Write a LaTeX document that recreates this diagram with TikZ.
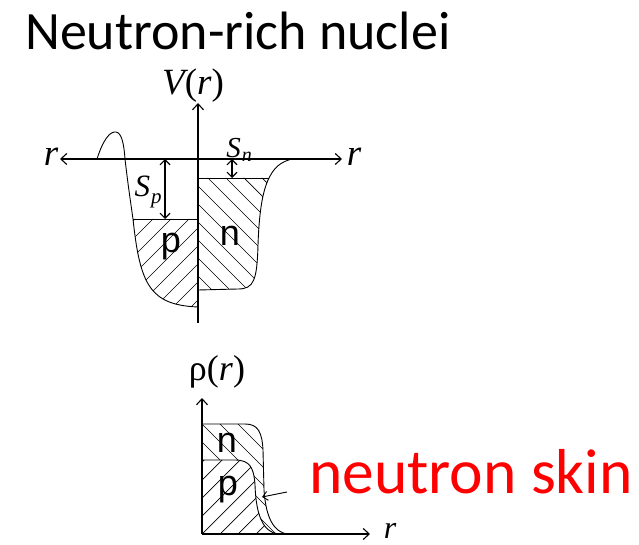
\documentclass[tikz,border=0pt]{standalone}
\usepackage{fontspec}
\newfontfamily\calibrifont{Carlito}
\newfontfamily\arialfont{Liberation Sans}
\newfontfamily\seriffont{Liberation Serif}
\usetikzlibrary{arrows.meta}

\begin{document}
\begin{tikzpicture}[
x=1pt, y=-1pt, axis/.style={line width=1.1pt, -{Straight Barb[length=6pt, width=11pt]}}, axisboth/.style={line width=1.1pt, {Straight Barb[length=6pt, width=11pt]}-{Straight Barb[length=6pt, width=11pt]}}, gap/.style={line width=1.1pt, {Straight Barb[length=5pt, width=10pt]}-{Straight Barb[length=5pt, width=10pt]}}, curve/.style={line width=0.9pt}, hatch/.style={line width=0.7pt}, var/.style={font=\fontsize{37}{38}\seriffont\itshape, inner sep=0pt}, region/.style={font=\fontsize{36}{38}\arialfont, inner sep=0pt}, title/.style={font=\fontsize{54}{60}\calibrifont, inner sep=0pt}, skin/.style={font=\fontsize{63.5}{66}\calibrifont, text=red, inner sep=0pt} ]
\useasboundingbox (0,0) rectangle (639,545);
% title
\node[title, anchor=base west] (title) at (25,50) {Neutron-rich nuclei};
% potential: hatched proton and neutron wells
\begin{scope}
\clip (133,219) -- (198,219) -- (198,307) .. controls (150,305) and (140,285) .. (133,219) -- cycle;
\foreach \a in {-120,-102,...,300} \draw[hatch] (\a,330) -- ++(220,-220);
\end{scope}
\begin{scope}
\clip (198,178) -- (269,178) .. controls (262,192) and (259,215) .. (258,245) .. controls (257,280) and (254,289) .. (238,289) -- (198,290) -- cycle;
\foreach \a in {-40,-22,...,300} \draw[hatch] (\a,110) -- ++(220,220);
\end{scope}
\draw[curve] (97,159) .. controls (103,140) and (110,131) .. (116,132) .. controls (122,133) and (124,145) .. (125,159) .. controls (128,185) and (131,205) .. (133,219) .. controls (140,285) and (150,305) .. (198,307);
\draw[curve] (292,159) .. controls (280,162) and (274,168) .. (269,178) .. controls (262,192) and (259,215) .. (258,245) .. controls (257,280) and (254,289) .. (238,289) -- (198,290);
\draw[curve] (133,219) -- (198,219);
\draw[curve] (198,178) -- (269,178);
% axes of V(r)
\coordinate (Vbot) at (198,323);
\coordinate (Vtop) at (198,103);
\coordinate (rleft) at (60,159);
\coordinate (rright) at (342,159);
\draw[axis] (Vbot) -- (Vtop);
\draw[axisboth] (rleft) -- (rright);
\node[var] (Vlabel) at (193,86) {V\upshape(\itshape r\upshape)};
\node[var] (rleftlabel) at (51,157) {r};
\node[var] (rrightlabel) at (354,157) {r};
% separation energies
\coordinate (Sptop) at (165,159);
\coordinate (Spbot) at (165,219);
\coordinate (Sntop) at (232,159);
\coordinate (Snbot) at (232,178);
\draw[gap] (Sptop) -- (Spbot);
\draw[gap] (Sntop) -- (Snbot);
\node[var, font=\fontsize{31}{32}\seriffont\itshape] (Splabel) at (148,192) {S\kern1pt\raisebox{-7pt}{\fontsize{21}{22}\selectfont p}};
\node[var, font=\fontsize{29}{30}\seriffont\itshape] (Snlabel) at (239,150) {S\kern1pt\raisebox{-4pt}{\fontsize{20}{20}\selectfont n}};
\node[region, anchor=base] (plabel) at (171,252) {p};
\node[region, anchor=base] (nlabel) at (230,245) {n};
% density: hatched neutron skin and proton core
\begin{scope}
\clip (202,424) -- (245,424) .. controls (258,424) and (262,432) .. (263,450) -- (264,490) .. controls (266,520) and (275,532) .. (287,534) -- (278,534) .. controls (263,532) and (256,515) .. (255,485) .. controls (254,468) and (250,460) .. (235,460) -- (202,460) -- cycle;
\foreach \a in {-40,-22,...,300} \draw[hatch] (\a,380) -- ++(220,220);
\end{scope}
\begin{scope}
\clip (202,460) -- (235,460) .. controls (250,460) and (254,468) .. (255,485) .. controls (256,515) and (263,532) .. (278,534) -- (202,534) -- cycle;
\foreach \a in {-40,-22,...,300} \draw[hatch] (\a,560) -- ++(180,-180);
\end{scope}
\draw[curve] (202,424) -- (245,424) .. controls (258,424) and (262,432) .. (263,450) -- (264,490) .. controls (266,520) and (275,532) .. (287,534);
\draw[curve] (202,460) -- (235,460) .. controls (250,460) and (254,468) .. (255,485) .. controls (256,515) and (263,532) .. (278,534);
% axes of rho(r)
\coordinate (O) at (202,534);
\coordinate (rhotop) at (202,398);
\coordinate (rend) at (370,534);
\draw[axis] (O) -- (rhotop);
\draw[axis] (O) -- (rend);
\node[var, font=\fontsize{36}{38}\seriffont] (rholabel) at (217,372) {ρ(\textit{r})};
\node[var, anchor=base, font=\fontsize{32}{34}\seriffont\itshape] (rbotlabel) at (390,538) {r};
\node[region, anchor=base] (nskin) at (227,452) {n};
\node[region, anchor=base] (pcore) at (228,495) {p};
% neutron skin label
\node[skin, anchor=base west] (skinlabel) at (309,493) {neutron skin};
\coordinate (skintail) at (287,492);
\coordinate (skintip) at (262,497);
\draw[line width=0.9pt, -{Straight Barb[length=5pt, width=9pt]}] (skintail) -- (skintip);
\end{tikzpicture}
\end{document}
